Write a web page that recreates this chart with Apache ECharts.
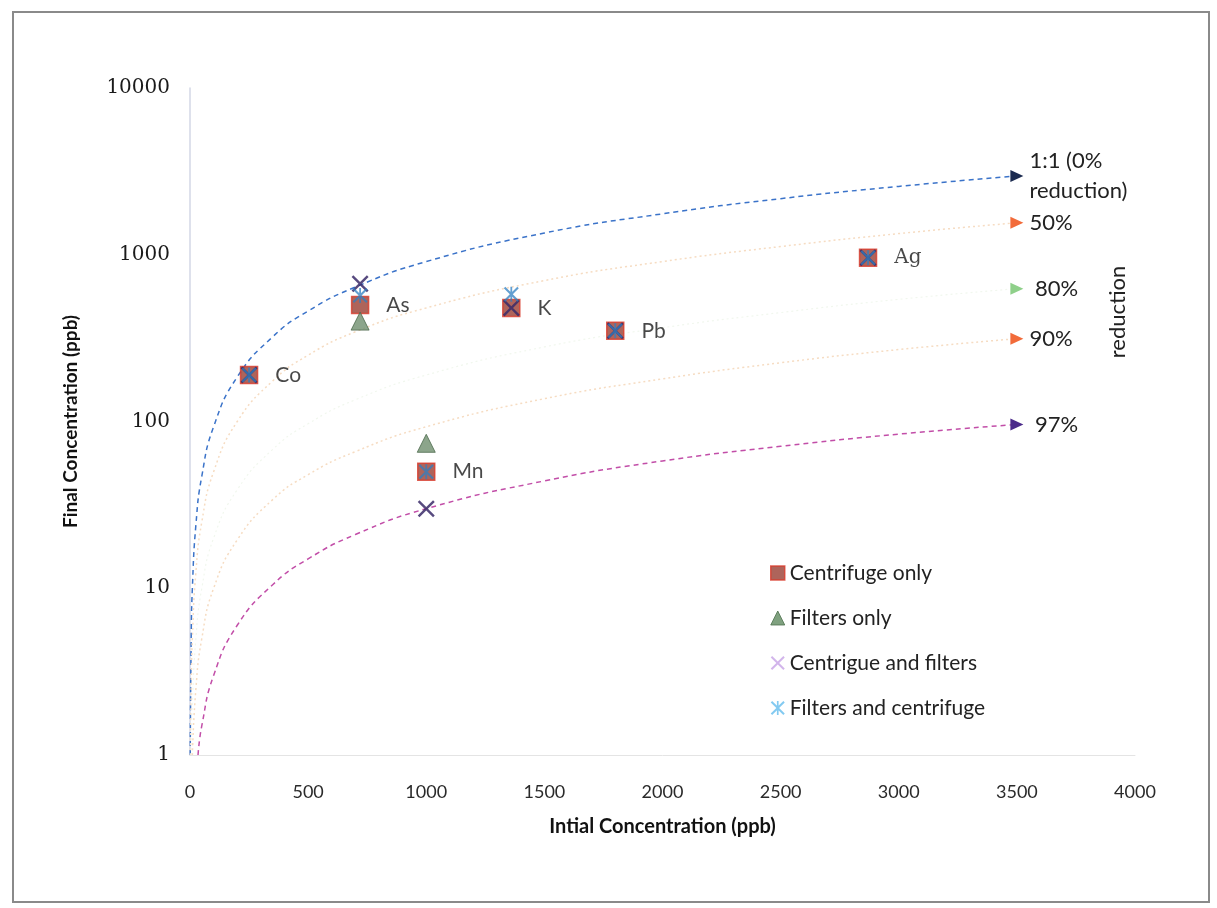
<!DOCTYPE html>
<html>
<head>
<meta charset="utf-8">
<title>Final vs Initial Concentration</title>
<script src="https://cdn.jsdelivr.net/npm/echarts@6/dist/echarts.min.js"></script>
<style>
  html, body { margin: 0; padding: 0; background: #ffffff; }
  #chart { width: 1217px; height: 908px; }
</style>
</head>
<body>
<div id="chart"></div>
<script>
// Elements and their initial concentrations (ppb)
const elements = ['Co', 'As', 'K', 'Pb', 'Ag', 'Mn'];
const initialConc = [250, 720, 1360, 1800, 2870, 1000];

// Final concentrations (ppb) per treatment; null = not measured
const centrifugeOnly = [190, 500, 480, 350, 960, 50];
const filtersOnly = [null, 400, null, null, null, 74];
const centrifugeAndFilters = [190, 670, 480, 350, 960, 30];
const filtersAndCentrifuge = [190, 570, 580, 350, 960, 50];

// Reference reduction curves
const line0X = [1, 5, 10, 25, 50, 100, 200, 350, 500, 700, 1000, 1500, 2000, 2500, 3000, 3500];
const line0Y = [1, 5, 10, 24, 47, 93, 185, 322, 460, 640, 910, 1350, 1760, 2170, 2570, 2970];
const line50X = [2, 5, 10, 25, 50, 100, 200, 350, 500, 700, 1000, 1500, 2000, 2500, 3000, 3500];
const line50Y = [1, 2.5, 5, 12.5, 25, 50, 100, 175, 250, 345, 480, 700, 910, 1120, 1340, 1555];
const line80X = [5, 10, 25, 50, 100, 200, 350, 500, 700, 1000, 1500, 2000, 2500, 3000, 3500];
const line80Y = [1, 2, 5, 10, 20, 39, 68, 97, 135, 190, 280, 365, 450, 540, 626];
const line90X = [10, 25, 50, 100, 200, 350, 500, 700, 1000, 1500, 2000, 2500, 3000, 3500];
const line90Y = [1, 2.5, 5, 10, 19.5, 34, 48, 66, 93, 137, 180, 225, 270, 314];
const line97X = [34, 50, 100, 200, 350, 500, 700, 1000, 1500, 2000, 2500, 3000, 3500];
const line97Y = [1, 1.5, 3, 6, 10.5, 15, 21, 30, 44, 58, 71, 84, 96];

// Tick labels
const xTicks = [0, 500, 1000, 1500, 2000, 2500, 3000, 3500, 4000];
const yTicks = [1, 10, 100, 1000, 10000];

const SANS = 'Lato, "Open Sans", sans-serif';
const SERIF = '"DejaVu Serif", "Liberation Serif", serif';
const ARROW = 'path://M0,0L10,5L0,10Z';
const CROSS = 'path://M0,1L1,0L5,4L9,0L10,1L6,5L10,9L9,10L5,6L1,10L0,9L4,5Z';
const STAR = 'path://M0,1L1,0L5,4L9,0L10,1L6,5L10,9L9,10L5,6L1,10L0,9L4,5Z M4.4,0L5.6,0L5.6,10L4.4,10Z';

function pairs(xs, ys) {
  const out = [];
  for (let i = 0; i < xs.length; i++) {
    if (ys[i] !== null && ys[i] !== undefined) out.push([xs[i], ys[i]]);
  }
  return out;
}

function refLine(name, xs, ys, lineColor, lineType, width, arrowColor, labelText) {
  const data = pairs(xs, ys).map(p => ({ value: p }));
  const last = data[data.length - 1];
  last.symbol = ARROW;
  last.symbolSize = [13, 12];
  last.itemStyle = { color: arrowColor };
  last.label = {
    show: true,
    position: 'right',
    distance: 6,
    formatter: labelText,
    color: '#222',
    fontFamily: SANS,
    fontSize: 22,
    lineHeight: 30
  };
  return {
    name: name,
    type: 'line',
    data: data,
    symbol: 'none',
    showSymbol: true,
    smooth: 0.5,
    silent: true,
    z: 1,
    lineStyle: { color: lineColor, type: lineType, width: width },
    itemStyle: { color: arrowColor }
  };
}

const chart = echarts.init(document.getElementById('chart'), null, { renderer: 'canvas' });

const option = {
  animation: false,
  backgroundColor: '#ffffff',
  grid: { left: 190, right: 82, top: 88, bottom: 153 },
  xAxis: {
    type: 'value',
    min: xTicks[0],
    max: xTicks[xTicks.length - 1],
    interval: 500,
    name: 'Intial Concentration (ppb)',
    nameLocation: 'middle',
    nameGap: 62,
    nameTextStyle: { fontFamily: SANS, fontSize: 20, fontWeight: 'bold', color: '#111' },
    axisLine: { show: true, lineStyle: { color: '#e4e4e4', width: 1 } },
    axisTick: { show: false },
    splitLine: { show: false },
    axisLabel: { fontFamily: SANS, fontSize: 18, color: '#2a2a2a', margin: 28, formatter: v => String(v) }
  },
  yAxis: {
    type: 'log',
    logBase: 10,
    min: yTicks[0],
    max: yTicks[yTicks.length - 1],
    name: 'Final Concentration (ppb)',
    nameLocation: 'middle',
    nameGap: 110,
    nameTextStyle: { fontFamily: SANS, fontSize: 19, fontWeight: 'bold', color: '#111' },
    axisLine: { show: true, lineStyle: { color: '#d3d7e6', width: 1.5 } },
    axisTick: { show: false },
    splitLine: { show: false },
    axisLabel: { fontFamily: SERIF, fontSize: 20, color: '#1a1a1a', margin: 20, formatter: v => String(v) }
  },
  legend: {
    orient: 'vertical',
    left: 765,
    top: 557,
    itemWidth: 14,
    itemHeight: 14,
    itemGap: 23,
    textStyle: { fontFamily: SANS, fontSize: 21, color: '#222', lineHeight: 22 },
    data: [
      { name: 'Centrifuge only', icon: 'rect', itemStyle: { color: '#9a3d32', borderColor: '#d8392b', borderWidth: 1.5 } },
      { name: 'Filters only', icon: 'triangle', itemStyle: { color: '#5f8a5f', borderColor: '#4d704d', borderWidth: 1 } },
      { name: 'Centrigue and filters', icon: CROSS, itemStyle: { color: '#caa8e8', borderWidth: 0 } },
      { name: 'Filters and centrifuge', icon: STAR, itemStyle: { color: '#5ab8ec', borderWidth: 0 } }
    ]
  },
  graphic: [
    {
      type: 'rect',
      shape: { x: 13, y: 12, width: 1196, height: 890 },
      style: { fill: 'none', stroke: '#8a8a8a', lineWidth: 2 },
      silent: true
    },
    {
      type: 'text',
      x: 1118,
      y: 312,
      rotation: Math.PI / 2,
      style: { text: 'reduction', fontFamily: SANS, fontSize: 22, fill: '#222', align: 'center', verticalAlign: 'middle' },
      silent: true
    }
  ],
  series: [
    refLine('ref0', line0X, line0Y, '#3b73c9', [5, 4], 1.5, '#1c2b50', '1:1 (0%\nreduction)'),
    refLine('ref50', line50X, line50Y, '#f6dcc2', [2, 3], 1.5, '#f26b3a', '50%'),
    refLine('ref80', line80X, line80Y, '#f1f7ee', [2, 3], 1.2, '#8fd08a', ' 80%'),
    refLine('ref90', line90X, line90Y, '#f6dcc2', [2, 3], 1.5, '#f26b3a', '90%'),
    refLine('ref97', line97X, line97Y, '#c24ea8', [5, 4], 1.5, '#4b2a8a', ' 97%'),
    {
      name: 'Centrifuge only',
      type: 'scatter',
      z: 3,
      symbol: 'rect',
      symbolSize: 17,
      itemStyle: { color: '#9a3d32', borderColor: '#d8392b', borderWidth: 1.5 },
      data: pairs(initialConc, centrifugeOnly),
      label: {
        show: true,
        position: 'right',
        distance: 17,
        fontFamily: SANS,
        fontSize: 21,
        color: '#1a1a1a',
        formatter: p => elements[p.dataIndex] === 'Ag' ? '{serif|Ag}' : elements[p.dataIndex],
        rich: { serif: { fontFamily: SERIF, fontSize: 20, color: '#1a1a1a' } }
      }
    },
    {
      name: 'Filters only',
      type: 'scatter',
      z: 4,
      symbol: 'triangle',
      symbolSize: 18,
      itemStyle: { color: '#6f8e6e', borderColor: '#4d6a4d', borderWidth: 1 },
      data: pairs(initialConc, filtersOnly)
    },
    {
      name: 'Centrigue and filters',
      type: 'scatter',
      z: 5,
      symbol: CROSS,
      symbolSize: 17,
      itemStyle: { color: '#3a2a68', borderWidth: 0, opacity: 0.85 },
      data: pairs(initialConc, centrifugeAndFilters)
    },
    {
      name: 'Filters and centrifuge',
      type: 'scatter',
      z: 6,
      symbol: STAR,
      symbolSize: 15,
      itemStyle: { color: '#2f7fc1', borderWidth: 0, opacity: 0.75 },
      data: pairs(initialConc, filtersAndCentrifuge)
    }
  ]
};

chart.setOption(option);
</script>
</body>
</html>
